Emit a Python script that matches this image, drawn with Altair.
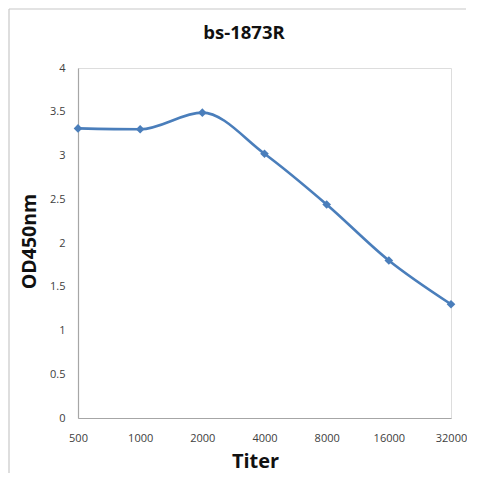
import altair as alt
import pandas as pd

titers = ["500", "1000", "2000", "4000", "8000", "16000", "32000"]
od450 = [3.31, 3.30, 3.49, 3.02, 2.44, 1.80, 1.30]
chart_title = "bs-1873R"

df = pd.DataFrame({"Titer": titers, "OD": od450})

W, H = 373, 350
BLUE = "#4A7EBB"

x_enc = alt.X(
    "Titer:O",
    sort=titers,
    scale=alt.Scale(type="point", padding=0),
    axis=alt.Axis(
        title="Titer", labelAngle=0, ticks=False, grid=False,
        domainColor="#A6A6A6", domainWidth=1.2,
        labelFont="Open Sans", labelFontSize=11, labelColor="#404040", labelPadding=14,
        titleFont="Open Sans", titleFontSize=20, titleFontWeight="bold", titleColor="#111111",
        titleX=177, titleY=43, titleBaseline="middle", titleAlign="center",
    ),
)
y_enc = alt.Y(
    "OD:Q",
    scale=alt.Scale(domain=[0, 4], nice=False, zero=True),
    axis=alt.Axis(
        title="OD450nm", values=[0, 0.5, 1, 1.5, 2, 2.5, 3, 3.5, 4], format="~g",
        ticks=False, grid=False,
        domainColor="#A6A6A6", domainWidth=1.2,
        labelFont="Open Sans", labelFontSize=11, labelColor="#404040", labelPadding=13,
        titleFont="Open Sans", titleFontSize=19.5, titleFontWeight="bold", titleColor="#111111",
        titleX=-49, titleY=H / 2 - 2, titleAngle=270, titleBaseline="middle", titleAlign="center",
    ),
)

line = alt.Chart(df).mark_line(
    color=BLUE, strokeWidth=2.6, interpolate="monotone"
).encode(x=x_enc, y=y_enc)

pts = alt.Chart(df).mark_point(
    shape="diamond", filled=True, color=BLUE, size=75, opacity=1
).encode(x=x_enc, y=y_enc)

title_df = pd.DataFrame({"t": [chart_title]})
title = alt.Chart(title_df).mark_text(
    font="Open Sans", fontSize=18.5, fontWeight="bold", color="#111111",
    align="center", baseline="middle"
).encode(x=alt.value(166), y=alt.value(-35), text="t:N")

frame_df = pd.DataFrame({"a": [0]})
frame_left = alt.Chart(frame_df).mark_rule(color="#C8C8C8", strokeWidth=1.2).encode(
    x=alt.value(-69), y=alt.value(-59), y2=alt.value(405)
)
frame_top = alt.Chart(frame_df).mark_rule(color="#C8C8C8", strokeWidth=1.2).encode(
    x=alt.value(-69), x2=alt.value(388), y=alt.value(-59)
)

chart = alt.layer(frame_left, frame_top, line, pts, title).properties(
    width=W, height=H, padding=0
).configure_view(stroke=None).configure(background="white")

chart.save("out.html", embed_options={"renderer": "svg", "actions": False})
